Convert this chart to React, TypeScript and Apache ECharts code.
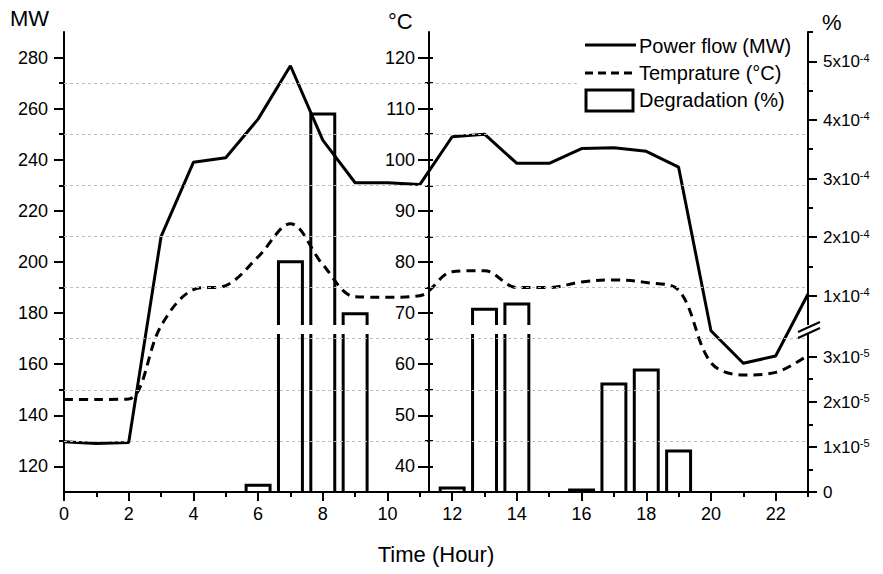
import React, { useEffect, useRef } from "react";
import * as echarts from "echarts";

// ---------------- data ----------------
const HOURS = [0, 1, 2, 3, 4, 5, 6, 7, 8, 9, 10, 11, 12, 13, 14, 15, 16, 17, 18, 19, 20, 21, 22, 23];
const POWER_MW = [129.7, 129.0, 129.4, 209.9, 239.0, 240.8, 255.9, 276.8, 247.7, 231.0, 231.0, 230.3,
  249.0, 250.0, 238.6, 238.6, 244.4, 244.7, 243.3, 237.1, 173.1, 160.4, 163.2, 187.5];
const TEMP_C = [53.1, 53.1, 53.2, 67.5, 74.6, 75.4, 81.0, 87.5, 79.5, 73.2, 73.1, 73.4,
  78.1, 78.3, 75.0, 75.0, 76.1, 76.5, 76.0, 74.5, 60.3, 57.9, 58.4, 61.8];
const DEG_HOURS = [6, 7, 8, 9, 12, 13, 14, 16, 17, 18, 19];
const DEG_PCT = [1.5e-6, 1.58e-4, 4.1e-4, 6.9e-5, 9e-7, 7.7e-5, 8.6e-5, 4.5e-7, 2.39e-5, 2.7e-5, 9.1e-6];

// ---------------- ticks ----------------
const X_LABELS = [0, 2, 4, 6, 8, 10, 12, 14, 16, 18, 20, 22];
const X_MINOR = [1, 3, 5, 7, 9, 11, 13, 15, 17, 19, 21, 23];
const MW_LABELS = [120, 140, 160, 180, 200, 220, 240, 260, 280];
const MW_MINOR = [130, 150, 170, 190, 210, 230, 250, 270];
const TEMP_LABELS = [40, 50, 60, 70, 80, 90, 100, 110, 120];
const TEMP_MINOR = [45, 55, 65, 75, 85, 95, 105, 115];
const DEG_UPPER_LABELS = [1e-4, 2e-4, 3e-4, 4e-4, 5e-4];
const DEG_UPPER_MINOR = [1.5e-4, 2.5e-4, 3.5e-4, 4.5e-4, 5.5e-4];
const DEG_LOWER_LABELS = [0, 1e-5, 2e-5, 3e-5];
const DEG_LOWER_MINOR = [0.5e-5, 1.5e-5, 2.5e-5];

const MW_RANGE = [110, 290];
const TEMP_RANGE = [35, 125];
const DEG_UPPER_RANGE = [0.5e-4, 5.5e-4];
const DEG_LOWER_RANGE = [0, 3.5e-5];
const X_RANGE = [0, 23];

const BAR_WIDTH_H = 0.74;
const FONT = "'Liberation Sans', Arial, Helvetica, sans-serif";
const BLACK = "#000";

function supLabel(v: number, exp: number) {
  if (v === 0) return "{m|0}";
  const m = Math.round(v / Math.pow(10, exp));
  return "{m|" + m + "x10}{e|" + exp + "}";
}

const richRight = {
  m: { fontSize: 17, color: BLACK, fontFamily: FONT, lineHeight: 18, verticalAlign: "bottom" },
  e: { fontSize: 11, color: BLACK, fontFamily: FONT, lineHeight: 11, verticalAlign: "top" },
};

function tickAxis(extra: any) {
  return {
    type: "value",
    axisLine: { show: false, onZero: false },
    axisLabel: { show: false },
    splitLine: { show: false },
    ...extra,
  };
}

function makeBarRender(part: "upper" | "lower") {
  return (params: any, api: any) => {
    const x = api.value(0);
    const v = api.value(1);
    const lo = part === "upper" ? DEG_UPPER_RANGE[0] : DEG_LOWER_RANGE[0];
    const hi = part === "upper" ? DEG_UPPER_RANGE[1] : DEG_LOWER_RANGE[1];
    const w = api.size([BAR_WIDTH_H, 0])[0];
    const base = api.coord([x, lo]);
    const l = base[0] - w / 2;
    const r = base[0] + w / 2;
    const style = { stroke: BLACK, lineWidth: 3, fill: null, lineJoin: "miter" };
    if (part === "lower") {
      if (v <= hi) {
        const t = api.coord([x, v])[1];
        return {
          type: "polyline",
          shape: { points: [[l, base[1]], [l, t], [r, t], [r, base[1]]] },
          style,
        };
      }
      const t = api.coord([x, hi])[1];
      return {
        type: "group",
        children: [
          { type: "line", shape: { x1: l, y1: base[1], x2: l, y2: t }, style },
          { type: "line", shape: { x1: r, y1: base[1], x2: r, y2: t }, style },
        ],
      };
    }
    if (v <= lo) return { type: "group", children: [] };
    const t = api.coord([x, Math.min(v, hi)])[1];
    return {
      type: "polyline",
      shape: { points: [[l, base[1]], [l, t], [r, t], [r, base[1]]] },
      style,
    };
  };
}

export default function App() {
  const ref = useRef<HTMLDivElement>(null);

  useEffect(() => {
    if (!ref.current) return;
    const chart = echarts.init(ref.current, undefined, { renderer: "svg" });

    const powerData = HOURS.map((h, i) => [h, POWER_MW[i]]);
    const tempData = HOURS.map((h, i) => [h, TEMP_C[i]]);
    const degData = DEG_HOURS.map((h, i) => [h, DEG_PCT[i]]);
    const degUpper = degData.filter((d) => d[1] > DEG_UPPER_RANGE[0]);

    const axisLineStyle = { show: true, onZero: false, lineStyle: { color: BLACK, width: 2 } };
    const tickStyle = { color: BLACK, width: 2 };

    const option: any = {
      animation: false,
      backgroundColor: "#fff",
      textStyle: { fontFamily: FONT, color: BLACK },
      grid: [
        { left: 64, right: 75, top: 32, bottom: 82 },
        { left: 64, right: 75, top: 32, bottom: 249 },
        { left: 64, right: 75, top: 334, bottom: 82 },
      ],
      xAxis: [
        {
          type: "value", gridIndex: 0, position: "bottom", min: X_RANGE[0], max: X_RANGE[1],
          axisLine: axisLineStyle,
          axisTick: { show: true, customValues: X_LABELS, length: 9, lineStyle: tickStyle },
          axisLabel: { show: true, customValues: X_LABELS, fontSize: 18, color: BLACK, margin: 13, fontFamily: FONT },
          splitLine: { show: false },
        },
        tickAxis({
          gridIndex: 0, position: "bottom", min: X_RANGE[0], max: X_RANGE[1],
          axisTick: { show: true, customValues: X_MINOR, length: 5, lineStyle: tickStyle },
        }),
        { type: "value", gridIndex: 1, position: "bottom", min: X_RANGE[0], max: X_RANGE[1], show: false, axisLine: { onZero: false } },
        { type: "value", gridIndex: 2, position: "bottom", min: X_RANGE[0], max: X_RANGE[1], show: false, axisLine: { onZero: false } },
      ],
      yAxis: [
        {
          type: "value", gridIndex: 0, position: "left", min: MW_RANGE[0], max: MW_RANGE[1],
          axisLine: axisLineStyle,
          axisTick: { show: true, customValues: MW_LABELS, length: 10, lineStyle: tickStyle },
          axisLabel: { show: true, customValues: MW_LABELS, fontSize: 18, color: BLACK, margin: 16, fontFamily: FONT },
          splitLine: { show: false },
        },
        tickAxis({
          gridIndex: 0, position: "left", min: MW_RANGE[0], max: MW_RANGE[1],
          axisTick: { show: true, customValues: MW_MINOR, length: 5, lineStyle: tickStyle },
        }),
        {
          type: "value", gridIndex: 0, position: "left", offset: -365, min: TEMP_RANGE[0], max: TEMP_RANGE[1],
          axisLine: axisLineStyle,
          axisTick: { show: true, customValues: TEMP_LABELS, length: 11, lineStyle: tickStyle },
          axisLabel: { show: true, customValues: TEMP_LABELS, fontSize: 18, color: BLACK, margin: 14, fontFamily: FONT },
          splitLine: { show: false },
        },
        tickAxis({
          gridIndex: 0, position: "left", offset: -365, min: TEMP_RANGE[0], max: TEMP_RANGE[1],
          axisTick: { show: true, customValues: TEMP_MINOR, length: 4, lineStyle: tickStyle },
        }),
        tickAxis({
          gridIndex: 0, position: "left", offset: -365, min: TEMP_RANGE[0], max: TEMP_RANGE[1],
          axisTick: { show: true, inside: true, customValues: TEMP_LABELS.concat(TEMP_MINOR), length: 4, lineStyle: tickStyle },
        }),
        {
          type: "value", gridIndex: 1, position: "right", min: DEG_UPPER_RANGE[0], max: DEG_UPPER_RANGE[1],
          axisLine: axisLineStyle,
          axisTick: { show: true, customValues: DEG_UPPER_LABELS, length: 9, lineStyle: tickStyle },
          axisLabel: {
            show: true, customValues: DEG_UPPER_LABELS, margin: 15,
            formatter: (v: number) => supLabel(v, -4), rich: richRight,
          },
          splitLine: { show: false },
        },
        tickAxis({
          gridIndex: 1, position: "right", min: DEG_UPPER_RANGE[0], max: DEG_UPPER_RANGE[1],
          axisTick: { show: true, customValues: DEG_UPPER_MINOR, length: 5, lineStyle: tickStyle },
        }),
        {
          type: "value", gridIndex: 2, position: "right", min: DEG_LOWER_RANGE[0], max: DEG_LOWER_RANGE[1],
          axisLine: axisLineStyle,
          axisTick: { show: true, customValues: DEG_LOWER_LABELS, length: 9, lineStyle: tickStyle },
          axisLabel: {
            show: true, customValues: DEG_LOWER_LABELS, margin: 15,
            formatter: (v: number) => supLabel(v, -5), rich: richRight,
          },
          splitLine: { show: false },
        },
        tickAxis({
          gridIndex: 2, position: "right", min: DEG_LOWER_RANGE[0], max: DEG_LOWER_RANGE[1],
          axisTick: { show: true, customValues: DEG_LOWER_MINOR, length: 5, lineStyle: tickStyle },
        }),
      ],
      series: [
        {
          name: "grid",
          type: "line",
          xAxisIndex: 0,
          yAxisIndex: 0,
          data: [],
          silent: true,
          z: 1,
          markLine: {
            silent: true,
            symbol: ["none", "none"],
            label: { show: false },
            lineStyle: { color: "#bdbdbd", type: [3, 3], width: 1 },
            data: MW_MINOR.map((v) => ({ yAxis: v })),
          },
        },
        {
          name: "Degradation lower",
          type: "custom",
          xAxisIndex: 3,
          yAxisIndex: 7,
          data: degData,
          renderItem: makeBarRender("lower"),
          z: 2,
          silent: true,
        },
        {
          name: "Degradation upper",
          type: "custom",
          xAxisIndex: 2,
          yAxisIndex: 5,
          data: degUpper,
          renderItem: makeBarRender("upper"),
          z: 2,
          silent: true,
        },
        {
          name: "Power flow (MW)",
          type: "line",
          xAxisIndex: 0,
          yAxisIndex: 0,
          data: powerData,
          symbol: "none",
          lineStyle: { color: BLACK, width: 3 },
          z: 3,
        },
        {
          name: "Temprature (°C)",
          type: "line",
          xAxisIndex: 0,
          yAxisIndex: 2,
          data: tempData,
          symbol: "none",
          smooth: 0.35,
          lineStyle: { color: BLACK, width: 3, type: [9, 6] },
          z: 3,
        },
      ],
      graphic: [
        { type: "text", z: 20, style: { x: 10, y: 18, text: "MW", font: "22px " + FONT, fill: BLACK, verticalAlign: "middle", textVerticalAlign: "middle" } },
        { type: "text", z: 20, style: { x: 388, y: 21, text: "°C", font: "22px " + FONT, fill: BLACK, verticalAlign: "middle", textVerticalAlign: "middle" } },
        { type: "text", z: 20, style: { x: 822, y: 22, text: "%", font: "22px " + FONT, fill: BLACK, verticalAlign: "middle", textVerticalAlign: "middle" } },
        { type: "text", z: 20, style: { x: 436, y: 554, text: "Time (Hour)", font: "22px " + FONT, fill: BLACK, align: "center", textAlign: "center", verticalAlign: "middle", textVerticalAlign: "middle" } },
        { type: "rect", z: 20, shape: { x: 803, y: 325, width: 12, height: 9 }, style: { fill: "#fff" } },
        { type: "line", z: 21, shape: { x1: 798, y1: 332, x2: 820, y2: 322 }, style: { stroke: BLACK, lineWidth: 2 } },
        { type: "line", z: 21, shape: { x1: 798, y1: 338, x2: 820, y2: 328 }, style: { stroke: BLACK, lineWidth: 2 } },
        { type: "rect", z: 20, shape: { x: 580, y: 34, width: 224, height: 81 }, style: { fill: "#fff" } },
        { type: "line", z: 21, shape: { x1: 585, y1: 45, x2: 636, y2: 45 }, style: { stroke: BLACK, lineWidth: 3 } },
        { type: "text", z: 21, style: { x: 639, y: 46, text: "Power flow (MW)", font: "20px " + FONT, fill: BLACK, verticalAlign: "middle", textVerticalAlign: "middle" } },
        { type: "line", z: 21, shape: { x1: 585, y1: 73, x2: 636, y2: 73 }, style: { stroke: BLACK, lineWidth: 3, lineDash: [8, 5] } },
        { type: "text", z: 21, style: { x: 639, y: 73, text: "Temprature (°C)", font: "20px " + FONT, fill: BLACK, verticalAlign: "middle", textVerticalAlign: "middle" } },
        { type: "rect", z: 21, shape: { x: 586, y: 90, width: 47, height: 21 }, style: { stroke: BLACK, lineWidth: 3, fill: "#fff" } },
        { type: "text", z: 21, style: { x: 639, y: 100, text: "Degradation (%)", font: "20px " + FONT, fill: BLACK, verticalAlign: "middle", textVerticalAlign: "middle" } },
      ],
    };

    chart.setOption(option);
    return () => chart.dispose();
  }, []);

  return (
    <div
      ref={ref}
      style={{ position: "fixed", left: 0, top: 0, width: 883, height: 574, background: "#fff" }}
    />
  );
}
